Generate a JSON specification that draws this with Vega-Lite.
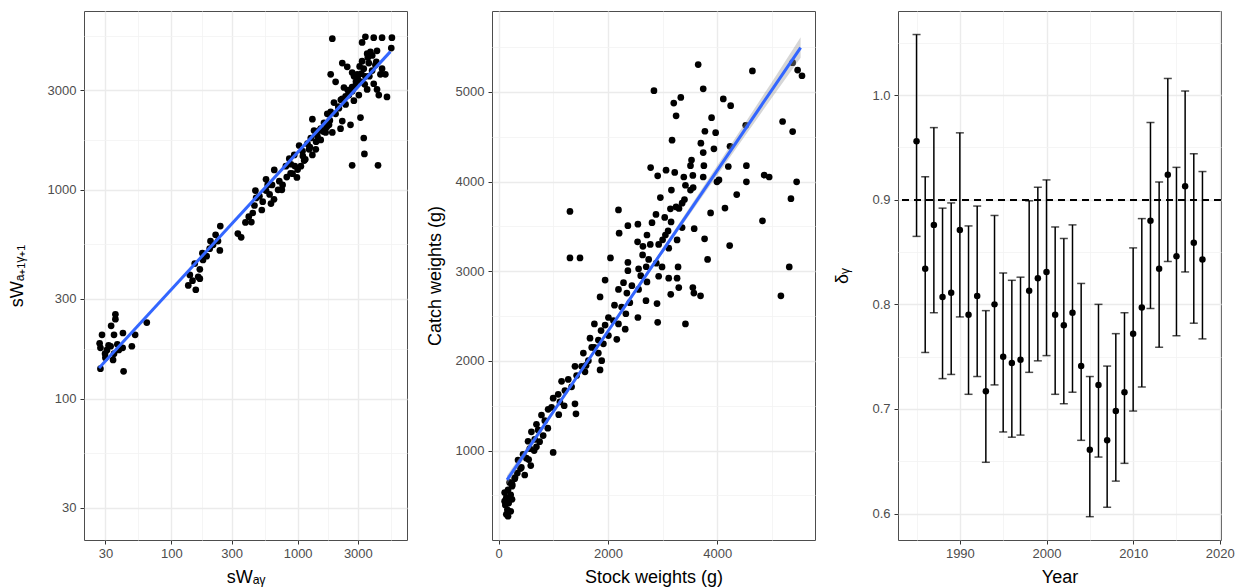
{
"$schema": "https://vega.github.io/schema/vega-lite/v6.json",
"background": "white",
"padding": {"left": 7, "top": 10, "right": 0, "bottom": 0},
"autosize": {"type": "pad"},
"spacing": 17,
"align": "none",
"datasets": {
"p1": [
{"x":27.4,"y":139},{"x":41.8,"y":135},{"x":27.0,"y":184},{"x":28.2,"y":202},{"x":36.0,"y":253},{"x":36.0,"y":240},{"x":33.3,"y":223},{"x":35.1,"y":202},{"x":41.3,"y":206},{"x":51.6,"y":202},{"x":48.6,"y":178},{"x":63.8,"y":231},{"x":30.9,"y":171},{"x":33.0,"y":178},{"x":35.1,"y":164},{"x":29.8,"y":164},{"x":37.3,"y":182},{"x":39.6,"y":175},{"x":30.0,"y":157},{"x":31.8,"y":180},{"x":34.5,"y":153},{"x":38.3,"y":171},{"x":41.1,"y":175},{"x":27.4,"y":175},
{"x":136,"y":348},{"x":156,"y":332},{"x":140,"y":391},{"x":153,"y":443},{"x":163,"y":383},{"x":168,"y":416},{"x":178,"y":461},{"x":176,"y":497},{"x":190,"y":481},{"x":201,"y":522},{"x":204,"y":568},{"x":224,"y":609},{"x":244,"y":670},{"x":242,"y":512},{"x":234,"y":568},{"x":214,"y":545},{"x":168,"y":375},{"x":147,"y":367},{"x":336,"y":617},{"x":357,"y":592},
{"x":386,"y":698},{"x":410,"y":743},{"x":441,"y":774},{"x":455,"y":841},{"x":469,"y":914},{"x":463,"y":991},{"x":498,"y":932},{"x":529,"y":877},{"x":562,"y":991},{"x":579,"y":1055},{"x":562,"y":1122},{"x":615,"y":859},{"x":653,"y":1245},{"x":627,"y":1055},{"x":716,"y":1099},{"x":760,"y":1055},{"x":807,"y":1298},{"x":859,"y":1409},{"x":885,"y":1325},{"x":940,"y":1469},{"x":912,"y":1194},{"x":987,"y":1146},{"x":1028,"y":1630},{"x":1093,"y":1531},{"x":1061,"y":1298},{"x":1127,"y":1380},{"x":1197,"y":1663},{"x":1233,"y":1563},{"x":1271,"y":1770},{"x":1309,"y":1469},{"x":1393,"y":1563},{"x":1479,"y":1923},{"x":1524,"y":1734},{"x":1349,"y":1923},{"x":1435,"y":1807},{"x":1309,"y":2178},{"x":1618,"y":2091},{"x":1718,"y":2312},{"x":1774,"y":2047},{"x":1883,"y":1883},{"x":1828,"y":2360},{"x":1941,"y":2618},{"x":2000,"y":2312},{"x":2124,"y":2460},{"x":2188,"y":1963},{"x":2258,"y":2729},{"x":2399,"y":2564},{"x":2547,"y":2844},{"x":2624,"y":2047},{"x":2704,"y":2965},{"x":2791,"y":2673},{"x":2877,"y":3155},{"x":2965,"y":3573},{"x":3055,"y":2844},{"x":3148,"y":2218},{"x":3206,"y":3289},{"x":3342,"y":3802},{"x":3243,"y":4130},{"x":3443,"y":3499},{"x":3556,"y":3027},{"x":3664,"y":4046},{"x":3776,"y":4581},{"x":3891,"y":3724},{"x":4009,"y":3221},{"x":4131,"y":3963},{"x":4256,"y":3027},{"x":4396,"y":2844},{"x":4529,"y":3573},{"x":4667,"y":3802},{"x":4955,"y":3573},{"x":5105,"y":2786},{"x":5521,"y":4775},{"x":5585,"y":5357},{"x":4667,"y":5357},{"x":4009,"y":5357},{"x":3443,"y":5408},{"x":3243,"y":5081},{"x":3556,"y":4487},{"x":4256,"y":4634},{"x":1883,"y":5297},{"x":1828,"y":3573},{"x":2258,"y":4046},{"x":2472,"y":3881},{"x":2704,"y":3647},{"x":2000,"y":3289},{"x":2328,"y":3090},{"x":3342,"y":1770},{"x":3381,"y":1486},{"x":2704,"y":1309},{"x":4335,"y":1309},{"x":1667,"y":1883},{"x":1524,"y":1963},{"x":2258,"y":2133},
{"x":600,"y":950},{"x":700,"y":1000},{"x":820,"y":1150},{"x":950,"y":1300},{"x":1100,"y":1450},{"x":1250,"y":1600},{"x":1400,"y":1700},{"x":1600,"y":1900},{"x":1800,"y":2150},{"x":2100,"y":2500},{"x":2400,"y":2800},{"x":2700,"y":3100},{"x":3000,"y":3400},{"x":3200,"y":3600},{"x":2900,"y":3300},{"x":2500,"y":3000},{"x":2200,"y":2700},{"x":1700,"y":2000},{"x":1150,"y":1400},{"x":1000,"y":1250},{"x":880,"y":1200},{"x":750,"y":1000},{"x":520,"y":800},{"x":430,"y":700},{"x":650,"y":900},{"x":3600,"y":4300},{"x":3900,"y":4400},{"x":4200,"y":4100},{"x":3100,"y":3900},{"x":2800,"y":3500},{"x":3700,"y":3500},{"x":3400,"y":3200}
],
"p1fit": [{"x":26.7,"y":140},{"x":5430,"y":4590}],
"p2": [
{"x":3651,"y":5305},{"x":4643,"y":5234},{"x":5379,"y":5326},{"x":5470,"y":5243},{"x":5550,"y":5180},{"x":2842,"y":5013},{"x":3743,"y":5034},{"x":3204,"y":4875},{"x":3333,"y":4938},{"x":3247,"y":4733},{"x":4110,"y":4921},{"x":4245,"y":4846},{"x":3896,"y":4712},{"x":4521,"y":4628},{"x":5195,"y":4670},{"x":5379,"y":4557},{"x":3774,"y":4561},{"x":3970,"y":4545},{"x":3173,"y":4461},{"x":3700,"y":4428},{"x":4233,"y":4394},{"x":3939,"y":4365},{"x":3743,"y":4323},{"x":3529,"y":4240},{"x":3510,"y":4177},{"x":3755,"y":4177},{"x":2781,"y":4156},{"x":3063,"y":4127},{"x":4202,"y":4168},{"x":4533,"y":4177},{"x":2910,"y":4064},{"x":3222,"y":4102},{"x":3388,"y":4051},{"x":3553,"y":4068},{"x":3743,"y":4051},{"x":4031,"y":4018},{"x":4858,"y":4072},{"x":4950,"y":4051},{"x":5452,"y":3997},{"x":4533,"y":3997},{"x":3994,"y":3997},{"x":3161,"y":3905},{"x":3418,"y":3959},{"x":3510,"y":3905},{"x":3559,"y":3934},{"x":4356,"y":3855},{"x":2959,"y":3822},{"x":3357,"y":3759},{"x":3247,"y":3717},{"x":3143,"y":3696},{"x":1305,"y":3667},{"x":2193,"y":3684},{"x":3878,"y":3650},{"x":4141,"y":3704},{"x":5348,"y":3809},{"x":2879,"y":3634},{"x":3039,"y":3600},{"x":3155,"y":3550},{"x":2806,"y":3541},{"x":2365,"y":3508},{"x":2548,"y":3525},{"x":4827,"y":3562},{"x":3357,"y":3487},{"x":3578,"y":3475},{"x":2205,"y":3424},{"x":2714,"y":3404},{"x":3051,"y":3404},{"x":3265,"y":3349},{"x":3768,"y":3362},{"x":2542,"y":3328},{"x":2640,"y":3278},{"x":2775,"y":3299},{"x":2928,"y":3299},{"x":3112,"y":3257},{"x":4227,"y":3286},{"x":1305,"y":3149},{"x":1489,"y":3149},{"x":2046,"y":3149},{"x":3823,"y":3132},{"x":2634,"y":3182},{"x":2745,"y":3132},{"x":2885,"y":3090},{"x":2365,"y":3098},{"x":2990,"y":3048},{"x":3283,"y":3048},{"x":2561,"y":3027},{"x":2365,"y":3006},{"x":5317,"y":3048},{"x":3265,"y":2923},{"x":3112,"y":2923},{"x":2928,"y":2944},{"x":1948,"y":2902},{"x":2714,"y":2881},{"x":2285,"y":2873},{"x":2438,"y":2839},{"x":2561,"y":2797},{"x":3296,"y":2818},{"x":3553,"y":2818},{"x":3572,"y":2756},{"x":3694,"y":2726},{"x":3149,"y":2743},{"x":5164,"y":2726},{"x":1856,"y":2714},{"x":2346,"y":2756},{"x":2193,"y":2797},{"x":2696,"y":2672},{"x":2898,"y":2639},{"x":2548,"y":2484},{"x":2328,"y":2526},{"x":2120,"y":2622},{"x":3418,"y":2413},{"x":2910,"y":2430},{"x":2009,"y":2484},{"x":2193,"y":2413},{"x":2316,"y":2354},{"x":1948,"y":2400},{"x":1752,"y":2413},{"x":1874,"y":2338},{"x":2009,"y":2283},{"x":2162,"y":2241},{"x":1672,"y":2254},{"x":1825,"y":2233},{"x":1917,"y":2191},{"x":1703,"y":2150},{"x":1825,"y":2087},{"x":1550,"y":2087},{"x":1886,"y":2003},{"x":1856,"y":1899},{"x":1642,"y":2003},{"x":1519,"y":1940},{"x":1397,"y":1940},{"x":1580,"y":1878},{"x":1427,"y":1836},{"x":1274,"y":1794},{"x":1152,"y":1773},{"x":1335,"y":1711},{"x":1213,"y":1669},{"x":1397,"y":1522},{"x":1415,"y":1410},{"x":1090,"y":1627},{"x":998,"y":1585},{"x":1121,"y":1543},{"x":968,"y":1481},{"x":906,"y":1460},{"x":784,"y":1397},{"x":845,"y":1334},{"x":692,"y":1293},{"x":723,"y":1230},{"x":600,"y":1209},{"x":998,"y":979},{"x":815,"y":1167},{"x":661,"y":1125},{"x":539,"y":1104},{"x":570,"y":1021},{"x":692,"y":1042},{"x":447,"y":958},{"x":355,"y":895},{"x":508,"y":916},{"x":588,"y":833},{"x":416,"y":812},{"x":343,"y":749},{"x":478,"y":728},{"x":294,"y":687},{"x":202,"y":645},{"x":245,"y":603},{"x":172,"y":561},{"x":221,"y":507},{"x":141,"y":477},{"x":184,"y":415},{"x":123,"y":394},{"x":160,"y":340},{"x":221,"y":323},{"x":172,"y":268},{"x":141,"y":289},{"x":110,"y":436},{"x":245,"y":457},{"x":110,"y":532},
{"x":2400,"y":2650},{"x":2600,"y":2950},{"x":2700,"y":3050},{"x":2250,"y":2600},{"x":2100,"y":2450},{"x":1750,"y":2150},{"x":1600,"y":1950},{"x":1200,"y":1500},{"x":1100,"y":1400},{"x":900,"y":1250},{"x":750,"y":1100},{"x":650,"y":1000},{"x":550,"y":900},{"x":400,"y":800},{"x":300,"y":700},{"x":250,"y":620},{"x":3000,"y":3350},{"x":3100,"y":3450},{"x":3300,"y":3700},{"x":3400,"y":3800}
],
"p2fit": [
{"x":154,"fit":674,"lo":625,"hi":723},{"x":1000,"fit":1433,"lo":1405,"hi":1461},{"x":2000,"fit":2331,"lo":2308,"hi":2354},{"x":2500,"fit":2779,"lo":2757,"hi":2801},{"x":3000,"fit":3228,"lo":3200,"hi":3256},{"x":4000,"fit":4125,"lo":4070,"hi":4180},{"x":5000,"fit":5023,"lo":4935,"hi":5111},{"x":5525,"fit":5494,"lo":5380,"hi":5610}
],
"p3": [
{"year":1985,"d":0.956,"lo":0.865,"hi":1.058},{"year":1986,"d":0.834,"lo":0.754,"hi":0.922},{"year":1987,"d":0.876,"lo":0.792,"hi":0.969},{"year":1988,"d":0.807,"lo":0.729,"hi":0.892},{"year":1989,"d":0.811,"lo":0.733,"hi":0.897},{"year":1990,"d":0.871,"lo":0.788,"hi":0.964},{"year":1991,"d":0.790,"lo":0.714,"hi":0.875},{"year":1992,"d":0.808,"lo":0.731,"hi":0.894},{"year":1993,"d":0.717,"lo":0.649,"hi":0.794},{"year":1994,"d":0.800,"lo":0.723,"hi":0.885},{"year":1995,"d":0.750,"lo":0.678,"hi":0.830},{"year":1996,"d":0.744,"lo":0.673,"hi":0.823},{"year":1997,"d":0.747,"lo":0.675,"hi":0.826},{"year":1998,"d":0.813,"lo":0.735,"hi":0.899},{"year":1999,"d":0.825,"lo":0.746,"hi":0.912},{"year":2000,"d":0.831,"lo":0.751,"hi":0.919},{"year":2001,"d":0.790,"lo":0.714,"hi":0.874},{"year":2002,"d":0.780,"lo":0.705,"hi":0.863},{"year":2003,"d":0.792,"lo":0.716,"hi":0.876},{"year":2004,"d":0.741,"lo":0.670,"hi":0.820},{"year":2005,"d":0.661,"lo":0.597,"hi":0.731},{"year":2006,"d":0.723,"lo":0.654,"hi":0.800},{"year":2007,"d":0.670,"lo":0.606,"hi":0.741},{"year":2008,"d":0.698,"lo":0.631,"hi":0.772},{"year":2009,"d":0.716,"lo":0.648,"hi":0.792},{"year":2010,"d":0.772,"lo":0.698,"hi":0.854},{"year":2011,"d":0.797,"lo":0.721,"hi":0.882},{"year":2012,"d":0.880,"lo":0.796,"hi":0.974},{"year":2013,"d":0.834,"lo":0.759,"hi":0.917},{"year":2014,"d":0.924,"lo":0.841,"hi":1.016},{"year":2015,"d":0.846,"lo":0.770,"hi":0.931},{"year":2016,"d":0.913,"lo":0.831,"hi":1.004},{"year":2017,"d":0.859,"lo":0.782,"hi":0.944},{"year":2018,"d":0.843,"lo":0.767,"hi":0.927}
]
},
"hconcat": [
{
"width": 323, "height": 529,
"layer": [
{"data": {"name": "p1"},
 "mark": {"type": "circle", "size": 45, "color": "black", "opacity": 1},
 "encoding": {
  "x": {"field": "x", "type": "quantitative", "title": "sWₐᵧ",
   "scale": {"type": "log", "domain": [20.3, 7355], "nice": false, "zero": false},
   "axis": {"values": [30, 54.77, 100, 173.2, 300, 547.7, 1000, 1732, 3000, 5477], "format": "d",
    "labelExpr": "indexof([30,100,300,1000,3000], datum.value) < 0 ? '' : datum.label",
    "tickOpacity": {"condition": {"test": "indexof([30,100,300,1000,3000], datum.value) < 0", "value": 0}, "value": 1},
    "gridWidth": {"condition": {"test": "indexof([30,100,300,1000,3000], datum.value) < 0", "value": 0.8}, "value": 1.4},
    "gridColor": {"condition": {"test": "indexof([30,100,300,1000,3000], datum.value) < 0", "value": "#f2f2f2"}, "value": "#ebebeb"}}},
  "y": {"field": "y", "type": "quantitative", "title": "sWₐ₊₁ᵧ₊₁",
   "scale": {"type": "log", "domain": [21.0, 7186], "nice": false, "zero": false},
   "axis": {"values": [30, 54.77, 100, 173.2, 300, 547.7, 1000, 1732, 3000, 5477], "format": "d", "titlePadding": 21,
    "labelExpr": "indexof([30,100,300,1000,3000], datum.value) < 0 ? '' : datum.label",
    "tickOpacity": {"condition": {"test": "indexof([30,100,300,1000,3000], datum.value) < 0", "value": 0}, "value": 1},
    "gridWidth": {"condition": {"test": "indexof([30,100,300,1000,3000], datum.value) < 0", "value": 0.8}, "value": 1.4},
    "gridColor": {"condition": {"test": "indexof([30,100,300,1000,3000], datum.value) < 0", "value": "#f2f2f2"}, "value": "#ebebeb"}}}
 }},
{"data": {"name": "p1fit"},
 "mark": {"type": "line", "color": "#3366FF", "strokeWidth": 3},
 "encoding": {
  "x": {"field": "x", "type": "quantitative", "title": "sWₐᵧ"},
  "y": {"field": "y", "type": "quantitative", "title": "sWₐ₊₁ᵧ₊₁"}
 }}
]
},
{
"width": 323, "height": 529,
"layer": [
{"data": {"name": "p2"},
 "mark": {"type": "circle", "size": 45, "color": "black", "opacity": 1},
 "encoding": {
  "x": {"field": "x", "type": "quantitative", "title": "Stock weights (g)",
   "scale": {"domain": [-121, 5788], "nice": false, "zero": false},
   "axis": {"values": [0, 1000, 2000, 3000, 4000, 5000], "format": "d",
    "labelExpr": "datum.value % 2000 != 0 ? '' : datum.label",
    "tickOpacity": {"condition": {"test": "datum.value % 2000 != 0", "value": 0}, "value": 1},
    "gridWidth": {"condition": {"test": "datum.value % 2000 != 0", "value": 0.8}, "value": 1.4},
    "gridColor": {"condition": {"test": "datum.value % 2000 != 0", "value": "#f2f2f2"}, "value": "#ebebeb"}}},
  "y": {"field": "y", "type": "quantitative", "title": "Catch weights (g)",
   "scale": {"domain": [3, 5902], "nice": false, "zero": false},
   "axis": {"values": [500, 1000, 1500, 2000, 2500, 3000, 3500, 4000, 4500, 5000, 5500], "format": "d", "titlePadding": 11,
    "labelExpr": "datum.value % 1000 != 0 ? '' : datum.label",
    "tickOpacity": {"condition": {"test": "datum.value % 1000 != 0", "value": 0}, "value": 1},
    "gridWidth": {"condition": {"test": "datum.value % 1000 != 0", "value": 0.8}, "value": 1.4},
    "gridColor": {"condition": {"test": "datum.value % 1000 != 0", "value": "#f2f2f2"}, "value": "#ebebeb"}}}
 }},
{"data": {"name": "p2fit"},
 "mark": {"type": "area", "color": "#999999", "opacity": 0.4},
 "encoding": {
  "x": {"field": "x", "type": "quantitative", "title": "Stock weights (g)"},
  "y": {"field": "lo", "type": "quantitative", "title": "Catch weights (g)"},
  "y2": {"field": "hi"}
 }},
{"data": {"name": "p2fit"},
 "mark": {"type": "line", "color": "#3366FF", "strokeWidth": 3},
 "encoding": {
  "x": {"field": "x", "type": "quantitative", "title": "Stock weights (g)"},
  "y": {"field": "fit", "type": "quantitative", "title": "Catch weights (g)"}
 }}
]
},
{
"width": 323, "height": 529,
"layer": [
{"data": {"name": "p3"},
 "mark": {"type": "errorbar", "color": "black", "thickness": 1.5, "ticks": {"size": 8, "thickness": 1.5}},
 "encoding": {
  "x": {"field": "year", "type": "quantitative", "title": "Year",
   "scale": {"domain": [1982.86, 2020.14], "nice": false, "zero": false},
   "axis": {"values": [1985, 1990, 1995, 2000, 2005, 2010, 2015, 2020], "format": "d",
    "labelExpr": "datum.value % 10 != 0 ? '' : datum.label",
    "tickOpacity": {"condition": {"test": "datum.value % 10 != 0", "value": 0}, "value": 1},
    "gridWidth": {"condition": {"test": "datum.value % 10 != 0", "value": 0.8}, "value": 1.4},
    "gridColor": {"condition": {"test": "datum.value % 10 != 0", "value": "#f2f2f2"}, "value": "#ebebeb"}}},
  "y": {"field": "lo", "type": "quantitative", "title": "δᵧ",
   "scale": {"domain": [0.5747, 1.0805], "nice": false, "zero": false},
   "axis": {"values": [0.6, 0.65, 0.7, 0.75, 0.8, 0.85, 0.9, 0.95, 1.0, 1.05], "format": ".1f", "titlePadding": 20,
    "labelExpr": "abs(datum.value*10 - round(datum.value*10)) > 0.001 ? '' : datum.label",
    "tickOpacity": {"condition": {"test": "abs(datum.value*10 - round(datum.value*10)) > 0.001", "value": 0}, "value": 1},
    "gridWidth": {"condition": {"test": "abs(datum.value*10 - round(datum.value*10)) > 0.001", "value": 0.8}, "value": 1.4},
    "gridColor": {"condition": {"test": "abs(datum.value*10 - round(datum.value*10)) > 0.001", "value": "#f2f2f2"}, "value": "#ebebeb"}}},
  "y2": {"field": "hi"}
 }},
{"data": {"name": "p3"},
 "mark": {"type": "rule", "color": "black", "strokeDash": [7, 5], "strokeWidth": 1.3},
 "encoding": {
  "y": {"datum": 0.9, "type": "quantitative"}
 }},
{"data": {"name": "p3"},
 "mark": {"type": "circle", "size": 42, "color": "black", "opacity": 1},
 "encoding": {
  "x": {"field": "year", "type": "quantitative", "title": "Year"},
  "y": {"field": "d", "type": "quantitative", "title": "δᵧ"}
 }}
]
}
],
"config": {
 "font": "Liberation Sans",
 "view": {"stroke": "#4d4d4d", "strokeWidth": 1},
 "axis": {
  "domain": false, "grid": true,
  "tickColor": "#333333", "tickSize": 4, "tickWidth": 1,
  "labelFont": "Liberation Sans", "labelFontSize": 13, "labelColor": "#4d4d4d",
  "titleFont": "Liberation Sans", "titleFontSize": 18, "titleFontWeight": "normal", "titleColor": "black",
  "labelOverlap": false, "labelFlush": false
 },
 "axisX": {"labelPadding": 3, "titlePadding": 8},
 "axisY": {"labelPadding": 4}
}
}
